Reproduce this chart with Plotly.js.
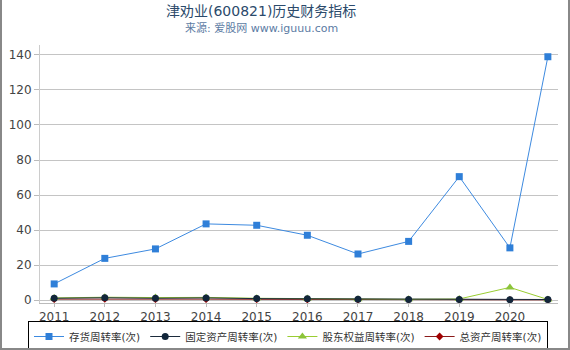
<!DOCTYPE html>
<html><head><meta charset="utf-8">
<script src="https://cdn.plot.ly/plotly-3.0.1.min.js"></script>
<style>html,body{margin:0;padding:0;background:#fff}#c{width:570px;height:350px;position:relative}#frame{position:absolute;left:0;top:0;width:570px;height:350px;box-sizing:border-box;border-left:2px solid #888;border-right:2px solid #888;border-bottom:2px solid #888;pointer-events:none}</style>
</head><body><div id="c"></div><div id="frame"></div>
<script>
const years = [2011, 2012, 2013, 2014, 2015, 2016, 2017, 2018, 2019, 2020, 2020.75];
const tickYears = [2011, 2012, 2013, 2014, 2015, 2016, 2017, 2018, 2019, 2020];
const inventoryTurnover = [9.2, 23.8, 29.2, 43.5, 42.7, 37.0, 26.3, 33.5, 70.5, 29.8, 139.0];
const fixedAssetTurnover = [1.0, 1.3, 1.0, 1.2, 0.8, 0.7, 0.4, 0.3, 0.3, 0.2, 0.3];
const equityTurnover = [1.2, 1.6, 1.4, 1.5, 1.0, 0.8, 0.5, 0.4, 0.6, 7.2, 0.3];
const totalAssetTurnover = [0.5, 0.6, 0.5, 0.5, 0.4, 0.3, 0.2, 0.15, 0.15, 0.1, 0.1];
const seriesNames = ['存货周转率(次)', '固定资产周转率(次)', '股东权益周转率(次)', '总资产周转率(次)'];
const titleText = '津劝业(600821)历史财务指标';
const subtitleText = '来源: 爱股网 www.iguuu.com';

const font = '"DejaVu Sans", "Noto Sans CJK SC", sans-serif';
const traces = [
  {x: years, y: totalAssetTurnover, name: seriesNames[3], mode: 'lines+markers', legendrank: 4,
   line: {color: '#8b1a1a', width: 1}, marker: {symbol: 'diamond', size: 6, color: '#a00000'}},
  {x: years, y: equityTurnover, name: seriesNames[2], mode: 'lines+markers', legendrank: 3,
   line: {color: '#9acd32', width: 1}, marker: {symbol: 'triangle-up', size: 8, color: '#8cc43a'}},
  {x: years, y: fixedAssetTurnover, name: seriesNames[1], mode: 'lines+markers', legendrank: 2,
   line: {color: '#1c2b3c', width: 1}, marker: {symbol: 'circle', size: 7, color: '#12263a'}},
  {x: years, y: inventoryTurnover, name: seriesNames[0], mode: 'lines+markers', legendrank: 1,
   line: {color: '#3d8ae0', width: 1}, marker: {symbol: 'square', size: 7, color: '#2f7fd8'}}
];
const layout = {
  width: 570, height: 350,
  margin: {l: 40, r: 12, t: 45, b: 47, autoexpand: false},
  paper_bgcolor: '#fff', plot_bgcolor: '#fff',
  font: {family: font, size: 12, color: '#444'},
  annotations: [
    {text: titleText, xref: 'paper', yref: 'paper', x: (261 - 40) / 518, y: (303 - 11) / 258,
     xanchor: 'center', yanchor: 'middle', showarrow: false, font: {size: 14, color: '#2b4a6b', family: font}},
    {text: subtitleText, xref: 'paper', yref: 'paper', x: (261 - 40) / 518, y: (303 - 28) / 258,
     xanchor: 'center', yanchor: 'middle', showarrow: false, font: {size: 11, color: '#5b7ba3', family: font}}
  ],
  xaxis: {range: [2010.72, 2020.95], tickvals: tickYears, ticktext: tickYears.map(String),
          showgrid: false, zeroline: false, showline: true, linecolor: '#bbb', ticks: 'outside', ticklen: 3,
          tickcolor: '#bbb', tickfont: {size: 12, color: '#444'}},
  yaxis: {range: [-1.7, 145.7], tickvals: [0, 20, 40, 60, 80, 100, 120, 140], showgrid: true, gridcolor: '#c4c4c4',
          zeroline: false, showline: true, linecolor: '#ccc', ticks: 'outside', ticklen: 5, tickcolor: '#bbb',
          tickfont: {size: 12, color: '#444'}},
  showlegend: true,
  legend: {orientation: 'h', x: (28 - 40) / 518, xanchor: 'left',
           y: -(321 - 303) / 258, yanchor: 'top', tracegroupgap: 0,
           bordercolor: '#000', borderwidth: 1, font: {size: 10.5, color: '#333'}, itemwidth: 30}
};
Plotly.newPlot('c', traces, layout, {displayModeBar: false, staticPlot: true});
</script></body></html>
